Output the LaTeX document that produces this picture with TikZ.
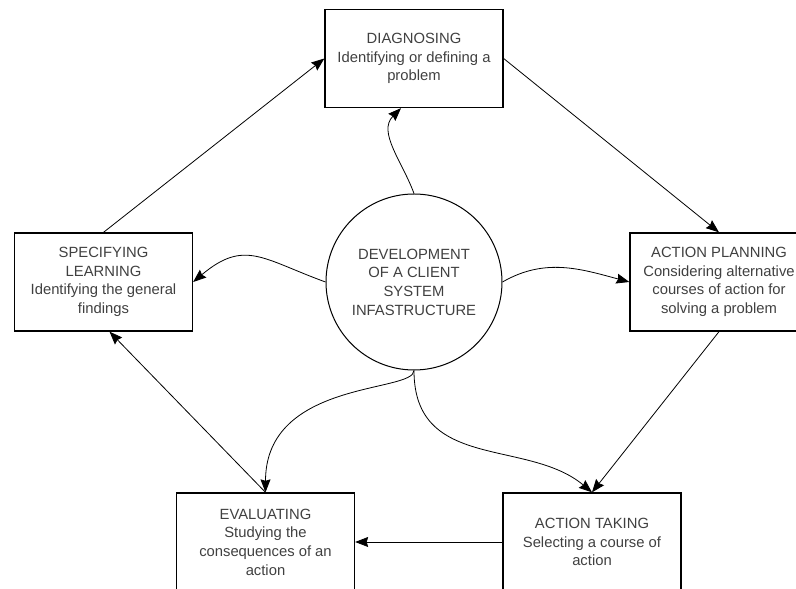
\documentclass[tikz,border=0pt]{standalone}
\usepackage{fontspec}
\setmainfont{Liberation Sans}
\usetikzlibrary{arrows.meta,positioning}

\begin{document}
\begin{tikzpicture}[%
    x=1pt, y=1pt,
    >={Stealth[length=13pt,width=10pt,inset=1.5pt]},
    on grid,
    font=\fontsize{14.8}{18.7}\selectfont,
    stage/.style={draw, line width=1.3pt, minimum width=178pt,
      minimum height=98pt, align=center, text=black!75},
    hub/.style={draw, circle, line width=1pt, minimum size=176pt,
      align=center, text=black!75},
    link/.style={line width=0.8pt}
  ]
  \clip (0,0) rectangle (796,589);

  \node[hub] (dev) at (414,307) {DEVELOPMENT\\OF A CLIENT\\SYSTEM\\INFASTRUCTURE};
  \node[stage] (diag) [above=223.5pt of dev] {DIAGNOSING\\Identifying or defining a\\problem};
  \node[stage] (spec) [left=310.5pt of dev] {SPECIFYING\\LEARNING\\Identifying the general\\findings};
  \node[stage] (plan) [right=305pt of dev] {ACTION PLANNING\\Considering alternative\\courses of action for\\solving a problem};
  \node[stage] (eval) [below left=260pt and 148.5pt of dev] {EVALUATING\\Studying the\\consequences of an\\action};
  \node[stage] (take) [below right=260pt and 178pt of dev] {ACTION TAKING\\Selecting a course of\\action};

  % the cycle
  \path[->, link] (spec.north) edge (diag.west);
  \path[->, link] (diag.east) edge (plan.north);
  \path[->, link] (plan.south) edge (take.north);
  \path[->, link] (take.west) edge (eval.east);
  \path[->, link] (eval.north) edge ([xshift=6pt] spec.south);

  % out of the centre
  \path[->, link] (dev.north) edge [out=110, in=225] ([xshift=-13pt] diag.south);
  \path[->, link] (dev.west) edge [out=160, in=40, looseness=1.3] (spec.east);
  \path[->, link] (dev.east) edge [out=30, in=165] (plan.west);
  \path[->, link] (dev.south) edge
      [out=-90, in=90, out looseness=0.3, in looseness=1.5] (eval.north);
  \path[->, link] (dev.south) edge
      [out=-90, in=140, out looseness=1.2, in looseness=1] (take.north);

\end{tikzpicture}
\end{document}
